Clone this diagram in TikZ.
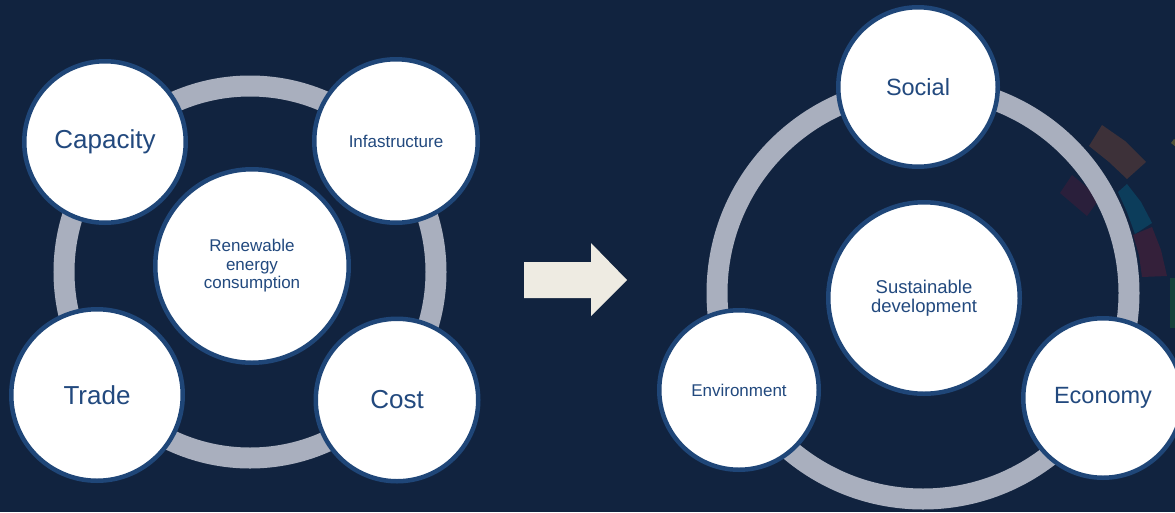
\documentclass[tikz,border=0pt]{standalone}
\usepackage{fontspec}
\setmainfont{Liberation Sans}
\definecolor{bg}{HTML}{11233F}
\definecolor{ringgray}{HTML}{A9AFBE}
\definecolor{edgeblue}{HTML}{1F4678}
\definecolor{txtblue}{HTML}{22497E}
\definecolor{arrowcream}{HTML}{EEEBE2}
\definecolor{segbrown}{HTML}{3D3139}
\definecolor{segpurple}{HTML}{2A1F3B}
\definecolor{segteal}{HTML}{0C3D5B}
\definecolor{segmaroon}{HTML}{34203A}
\definecolor{seggreen}{HTML}{16403A}
\definecolor{segyellow}{HTML}{4F4F34}
\tikzset{
  bubble/.style={circle, draw=edgeblue, line width=4.5pt, fill=white, inner sep=0pt,
    text=txtblue, align=center},
  ringline/.style={draw=ringgray, line width=21pt},
  big/.style={font=\fontsize{26}{30}\selectfont},
  mid/.style={font=\fontsize{23.5}{28}\selectfont},
  small/.style={font=\fontsize{17}{18.5}\selectfont},
  smallb/.style={font=\fontsize{18.5}{19.5}\selectfont},
}
\begin{document}
\begin{tikzpicture}[x=1pt,y=-1pt]
\fill[bg] (0,0) rectangle (1175,512);
\useasboundingbox (0,0) rectangle (1175,512);
% decorative segments
\fill[segbrown] (1089,146) -- (1102,125) -- (1125,141) -- (1146,162) -- (1127,179) -- (1109,162) -- cycle;
\fill[segpurple] (1060,193) -- (1072,175) -- (1100,198) -- (1087,216) -- cycle;
\fill[segteal] (1118,192) -- (1127,184) -- (1141,202) -- (1152,223) -- (1135,234) -- (1127,212) -- cycle;
\fill[segmaroon] (1133,235) -- (1152,227) -- (1161,250) -- (1167,276) -- (1142,277) -- (1139,255) -- cycle;
\fill[seggreen] (1170,278) -- (1176,278) -- (1176,328) -- (1170,328) -- cycle;
\fill[segyellow] (1171,143) -- (1174,139) -- (1176,141) -- (1176,147) -- cycle;
% rings
\coordinate (lc) at (250,272);
\coordinate (rc) at (923,293);
\draw[ringline] (lc) circle[radius=186];
\draw[ringline] (rc) circle[radius=206];
% arrow
\coordinate (a0) at (524,262);
\fill[arrowcream] (a0) -- (591,262) -- (591,243) -- (627,280) -- (591,316) -- (591,298) -- (524,298) -- cycle;
% left bubbles
\node[bubble, minimum size=161.5pt, big] (cap) at (105,142) {Capacity};
\node[bubble, minimum size=163.5pt, small] (inf) at (396,141) {Infastructure};
\node[bubble, minimum size=193.5pt, small] (ren) at (252,266) {Renewable\\energy\\consumption};
\node[bubble, minimum size=171.5pt, big] (trade) at (97,395) {Trade};
\node[bubble, minimum size=162.5pt, big] (cost) at (397,400) {Cost};
% right bubbles
\node[bubble, minimum size=159.5pt, mid] (soc) at (918,87) {Social};
\node[bubble, minimum size=191.5pt, smallb] (sust) at (924,298) {Sustainable\\development};
\node[bubble, minimum size=159.5pt, small] (env) at (739,390) {Environment};
\node[bubble, minimum size=159.5pt, mid] (econ) at (1103,398) {Economy};
\end{tikzpicture}
\end{document}
